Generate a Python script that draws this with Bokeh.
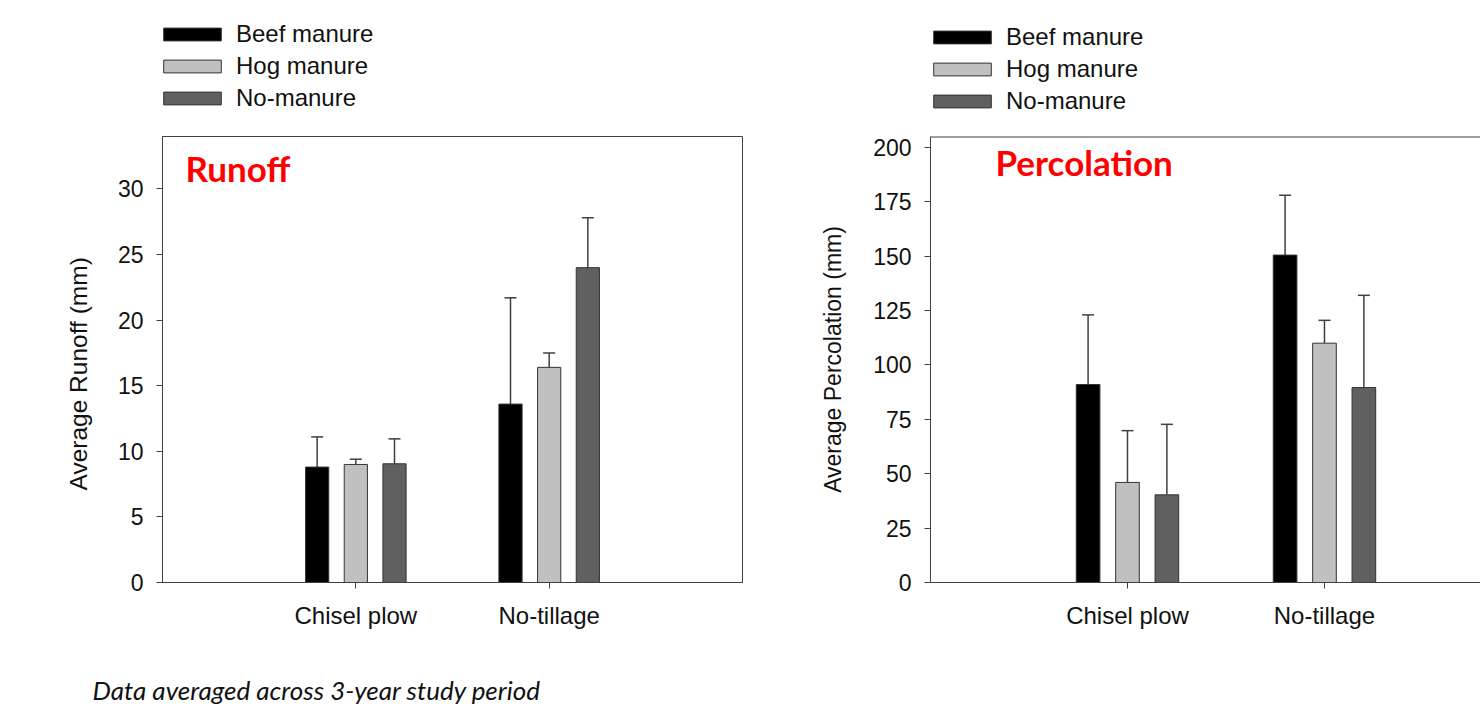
from bokeh.plotting import figure
from bokeh.models import (ColumnDataSource, Whisker, TeeHead, Legend, LegendItem,
                          FixedTicker, Label, Range1d, Title, Span)
from bokeh.layouts import row, column
from bokeh.embed import file_html
from bokeh.resources import INLINE

# ---------------- data ----------------
categories = ["Chisel plow", "No-tillage"]
series = ["Beef manure", "Hog manure", "No-manure"]
colors = ["#000000", "#c0c0c0", "#606060"]
offsets = [-0.2, 0.0, 0.2]

runoff_beef = [8.8, 13.6]
runoff_hog = [9.0, 16.4]
runoff_none = [9.05, 24.0]
runoff_beef_err = [2.3, 8.1]
runoff_hog_err = [0.4, 1.1]
runoff_none_err = [1.9, 3.8]

perc_beef = [91.0, 150.5]
perc_hog = [46.0, 110.0]
perc_none = [40.3, 89.6]
perc_beef_err = [32.0, 27.5]
perc_hog_err = [23.8, 10.5]
perc_none_err = [32.4, 42.4]

runoff_ticks = [0, 5, 10, 15, 20, 25, 30]
perc_ticks = [0, 25, 50, 75, 100, 125, 150, 175, 200]

note_text = "Data averaged across 3-year study period"

FONT = "Liberation Sans"
AX = "#404040"
TXT = "#111111"


def build_sources(means, errs):
    positions = [i + 1 for i in range(len(categories))]
    srcs = []
    for k in range(len(series)):
        xs = [pos + offsets[k] for pos in positions]
        srcs.append(ColumnDataSource(dict(
            x=xs, top=means[k], hi=[m + e for m, e in zip(means[k], errs[k])])))
    return positions, srcs


def bars(p, srcs):
    rs = []
    for k, src in enumerate(srcs):
        rs.append(p.vbar(x="x", top="top", width=0.12, source=src, fill_color=colors[k],
                         line_color="#333333", line_width=1))
    return rs


def legend_fig(width, srcs, loc):
    # legend-only strip: its ranges lie far from the data, so only the legend shows
    p = figure(width=width, height=120, x_range=Range1d(5000, 5001),
               y_range=Range1d(5000, 5001),
               output_backend="svg", toolbar_location=None, tools="",
               x_axis_location=None, y_axis_location=None, min_border=0)
    p.grid.visible = False
    p.outline_line_color = None
    rs = bars(p, srcs)
    items = [LegendItem(label=series[k], renderers=[rs[k]]) for k in range(len(series))]
    leg = Legend(items=items, location=loc, glyph_width=72, glyph_height=16,
                 label_height=27, spacing=4, label_standoff=8, padding=0, margin=0,
                 border_line_color=None, background_fill_alpha=0,
                 label_text_font=FONT, label_text_font_size="24px", label_text_color=TXT)
    p.add_layout(leg, "center")
    return p


def make_panel(positions, srcs, ymax, xmax, ticks, ylabel, title, width, mb_left, mb_right,
               mb_top, mb_bottom, title_pos, ylabel_size, ylabel_align, ylabel_offset,
               ylabel_standoff, full_outline):
    p = figure(width=width, height=530, x_range=Range1d(0, xmax), y_range=Range1d(0, ymax),
               output_backend="svg", toolbar_location=None, tools="",
               min_border_left=mb_left, min_border_right=mb_right,
               min_border_top=mb_top, min_border_bottom=mb_bottom)
    p.grid.visible = False
    if full_outline:
        p.outline_line_color = AX
        p.outline_line_width = 1
    else:
        p.outline_line_color = None
        # top border only (the right border is cut off by the page edge)
        p.add_layout(Span(location=ymax, dimension="width", line_color=AX, line_width=2))

    bars(p, srcs)
    for src in srcs:
        p.add_layout(Whisker(base="x", lower="top", upper="hi", source=src, line_color=AX,
                             line_width=1.5, lower_head=None,
                             upper_head=TeeHead(size=12, line_color=AX, line_width=1.5)))

    bx = p.below[0]
    ly = p.left[0]
    bx.ticker = FixedTicker(ticks=positions)
    bx.major_label_overrides = {pos: c for pos, c in zip(positions, categories)}
    ly.ticker = FixedTicker(ticks=ticks)
    for ax in (bx, ly):
        ax.axis_line_color = AX
        ax.major_tick_line_color = AX
        ax.major_tick_in = 0
        ax.major_tick_out = 6
        ax.minor_tick_line_color = None
        ax.major_label_text_font = FONT
        ax.major_label_text_color = TXT
    bx.major_label_text_font_size = "24px"
    ly.major_label_text_font_size = "23px"
    bx.major_label_standoff = 13
    ly.major_label_standoff = 13

    p.add_layout(Title(text=ylabel, align=ylabel_align, offset=ylabel_offset,
                       text_font=FONT, text_font_size=ylabel_size, text_font_style="normal",
                       text_color=TXT, standoff=ylabel_standoff), "left")

    p.add_layout(Label(x=title_pos[0], y=title_pos[1], x_units="screen", y_units="screen",
                       text=title, text_color="#ff0000", text_font="Lato",
                       text_font_style="bold", text_font_size="35px",
                       text_baseline="alphabetic"))
    return p


pos_r, src_r = build_sources([runoff_beef, runoff_hog, runoff_none],
                             [runoff_beef_err, runoff_hog_err, runoff_none_err])
pos_p, src_p = build_sources([perc_beef, perc_hog, perc_none],
                             [perc_beef_err, perc_hog_err, perc_none_err])

leg_left = legend_fig(790, src_r, (156, 8))
leg_right = legend_fig(690, src_p, (136, 5))

left = make_panel(pos_r, src_r, 34, 3.0, runoff_ticks, "Average Runoff (mm)", "Runoff",
                  790, 162, 48, 16, 68, (23, 415), "24.5px", "left", 92, 45, True)
right = make_panel(pos_p, src_p, 205, 2.792, perc_ticks, "Average Percolation (mm)",
                   "Percolation", 690, 140, 0, 8, 67, (65, 421), "23px", "center", 0, 49,
                   False)

note = figure(width=1480, height=57, x_range=Range1d(0, 1), y_range=Range1d(0, 1),
              output_backend="svg", toolbar_location=None, tools="",
              x_axis_location=None, y_axis_location=None, min_border=0)
note.grid.visible = False
note.outline_line_color = None
note.add_layout(Label(x=92, y=18, x_units="screen", y_units="screen", text=note_text,
                      text_font="Lato", text_font_style="italic", text_font_size="26px",
                      text_color=TXT, text_baseline="alphabetic"))

layout = column(row(leg_left, leg_right), row(left, right), note)
open("out.html", "w").write(file_html(layout, INLINE))
